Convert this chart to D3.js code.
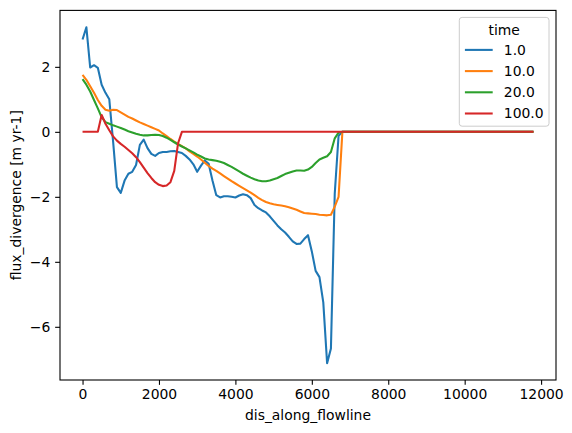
<!DOCTYPE html>
<html>
<head>
<meta charset="utf-8">
<script src="https://cdn.jsdelivr.net/npm/d3@7"></script>
<style>
  html, body { margin: 0; padding: 0; background: #fff; }
  svg { display: block; }
  text { font-family: "DejaVu Sans", sans-serif; fill: #000; }
</style>
</head>
<body>
<svg id="chart" width="572" height="433"></svg>
<script>
// ---- data ----
const dist = [0,100,200,300,400,500,600,700,800,900,
  1000,1100,1200,1300,1400,1500,1600,1700,1800,1900,
  2000,2100,2200,2300,2400,2500,2600,2700,2800,2900,
  3000,3100,3200,3300,3400,3500,3600,3700,3800,3900,
  4000,4100,4200,4300,4400,4500,4600,4700,4800,4900,
  5000,5100,5200,5300,5400,5500,5600,5700,5800,5900,
  6000,6100,6200,6300,6400,6500,6600,6700,6800,11800];

const timeLabels = ["1.0", "10.0", "20.0", "100.0"];

const flux_t1 = [2.84,3.22,1.98,2.05,1.97,1.45,1.2,1.0,-0.3,-1.7,
  -1.88,-1.5,-1.29,-1.23,-1.02,-0.4,-0.24,-0.5,-0.68,-0.74,
  -0.65,-0.62,-0.62,-0.6,-0.59,-0.62,-0.65,-0.74,-0.85,-1.0,
  -1.23,-1.04,-0.88,-0.98,-1.5,-1.95,-2.02,-1.98,-1.98,-2.0,
  -2.02,-1.96,-1.92,-1.95,-2.04,-2.25,-2.35,-2.42,-2.48,-2.6,
  -2.74,-2.88,-3.0,-3.1,-3.23,-3.37,-3.45,-3.44,-3.3,-3.18,
  -3.68,-4.28,-4.47,-5.25,-7.12,-6.67,-1.9,-0.12,0,0];

const flux_t10 = [1.75,1.6,1.4,1.2,0.98,0.8,0.68,0.65,0.68,0.67,
  0.6,0.53,0.46,0.41,0.35,0.29,0.24,0.19,0.14,0.09,
  0.04,-0.05,-0.13,-0.22,-0.3,-0.37,-0.44,-0.51,-0.6,-0.68,
  -0.76,-0.85,-0.95,-1.05,-1.13,-1.2,-1.28,-1.36,-1.44,-1.52,
  -1.59,-1.66,-1.73,-1.8,-1.87,-1.95,-2.03,-2.1,-2.16,-2.2,
  -2.23,-2.25,-2.27,-2.29,-2.32,-2.36,-2.4,-2.45,-2.5,-2.51,
  -2.52,-2.53,-2.55,-2.56,-2.57,-2.55,-2.3,-2.0,0,0];

const flux_t20 = [1.62,1.45,1.24,0.98,0.72,0.45,0.3,0.25,0.2,0.16,
  0.12,0.07,0.02,-0.02,-0.06,-0.09,-0.11,-0.11,-0.1,-0.09,
  -0.1,-0.13,-0.18,-0.25,-0.32,-0.39,-0.45,-0.51,-0.57,-0.63,
  -0.7,-0.76,-0.82,-0.85,-0.87,-0.89,-0.92,-0.96,-1.02,-1.08,
  -1.15,-1.22,-1.29,-1.35,-1.41,-1.46,-1.5,-1.52,-1.52,-1.5,
  -1.46,-1.42,-1.36,-1.3,-1.26,-1.22,-1.19,-1.19,-1.2,-1.16,
  -1.08,-0.96,-0.85,-0.8,-0.75,-0.62,-0.2,-0.02,0,0];

const flux_t100 = [0,0,0,0,0,0.52,0.25,0.05,-0.14,-0.27,
  -0.37,-0.46,-0.56,-0.66,-0.78,-0.93,-1.1,-1.27,-1.42,-1.55,
  -1.63,-1.67,-1.65,-1.55,-1.2,-0.35,0,0,0,0,
  0,0,0,0,0,0,0,0,0,0,
  0,0,0,0,0,0,0,0,0,0,
  0,0,0,0,0,0,0,0,0,0,
  0,0,0,0,0,0,0,0,0,0];

const xTicks = [0, 2000, 4000, 6000, 8000, 10000, 12000];
const yTicks = [-6, -4, -2, 0, 2];
const colors = ["#1f77b4", "#ff7f0e", "#2ca02c", "#d62728"];

const seriesValues = [flux_t1, flux_t10, flux_t20, flux_t100];

// ---- layout ----
const axL = 60, axT = 10.4, axW = 496, axH = 369.6;
const fs = 13.9;

const svg = d3.select("#chart");

const xExt = d3.extent(dist);
const xPad = (xExt[1] - xExt[0]) * 0.05;
const yExt = d3.extent(seriesValues.flat());
const yPad = (yExt[1] - yExt[0]) * 0.05;

const x = d3.scaleLinear().domain([xExt[0] - xPad, xExt[1] + xPad]).range([axL, axL + axW]);
const y = d3.scaleLinear().domain([yExt[0] - yPad, yExt[1] + yPad]).range([axT + axH, axT]);

const fmtMinus = d => String(d).replace("-", "\u2212");

// lines
const line = d3.line().x((d, i) => x(dist[i])).y(d => y(d));
const plot = svg.append("g");
plot.append("clipPath").attr("id", "clip").append("rect")
  .attr("x", axL).attr("y", axT).attr("width", axW).attr("height", axH);
seriesValues.forEach((vals, k) => {
  plot.append("path")
    .datum(vals)
    .attr("d", line)
    .attr("fill", "none")
    .attr("stroke", colors[k])
    .attr("stroke-width", 2.08)
    .attr("stroke-linejoin", "round")
    .attr("stroke-linecap", "butt")
    .attr("clip-path", "url(#clip)");
});

// axes
const xAxis = d3.axisBottom(x).tickValues(xTicks).tickSize(4.86).tickPadding(4.4).tickFormat(d => String(d));
const yAxis = d3.axisLeft(y).tickValues(yTicks).tickSize(4.86).tickPadding(4.86).tickFormat(fmtMinus);

const gx = svg.append("g").attr("transform", `translate(0,${axT + axH})`).call(xAxis);
const gy = svg.append("g").attr("transform", `translate(${axL},0)`).call(yAxis);
[gx, gy].forEach(g => {
  g.select(".domain").remove();
  g.selectAll(".tick line").attr("stroke", "#000").attr("stroke-width", 1.1);
  g.selectAll(".tick text").attr("font-size", fs).attr("font-family", "DejaVu Sans").attr("fill", "#000");
});

// spines
svg.append("rect")
  .attr("x", axL).attr("y", axT).attr("width", axW).attr("height", axH)
  .attr("fill", "none").attr("stroke", "#000").attr("stroke-width", 1.1);

// axis labels
svg.append("text")
  .attr("x", axL + axW / 2).attr("y", 420)
  .attr("text-anchor", "middle").attr("font-size", fs)
  .text("dis_along_flowline");
svg.append("text")
  .attr("transform", `translate(21,${axT + axH / 2}) rotate(-90)`)
  .attr("text-anchor", "middle").attr("font-size", fs)
  .text("flux_divergence [m yr-1]");

// legend
const lg = svg.append("g");
const lx = 459.3, ly = 17.4, lw = 89.7, lh = 108.8;
lg.append("rect")
  .attr("x", lx).attr("y", ly).attr("width", lw).attr("height", lh)
  .attr("rx", 2.8).attr("ry", 2.8)
  .attr("fill", "#fff").attr("fill-opacity", 0.8)
  .attr("stroke", "#cccccc").attr("stroke-width", 1);
lg.append("text")
  .attr("x", lx + lw / 2).attr("y", 30.1).attr("dy", "0.35em")
  .attr("text-anchor", "middle").attr("font-size", fs)
  .text("time");
const rowY = [49.9, 71.1, 92.3, 113.5];
timeLabels.forEach((lab, k) => {
  lg.append("line")
    .attr("x1", 464.9).attr("x2", 492.7)
    .attr("y1", rowY[k]).attr("y2", rowY[k])
    .attr("stroke", colors[k]).attr("stroke-width", 2.08);
  lg.append("text")
    .attr("x", 503.8).attr("y", rowY[k]).attr("dy", "0.35em")
    .attr("font-size", fs)
    .text(lab);
});
</script>
</body>
</html>
